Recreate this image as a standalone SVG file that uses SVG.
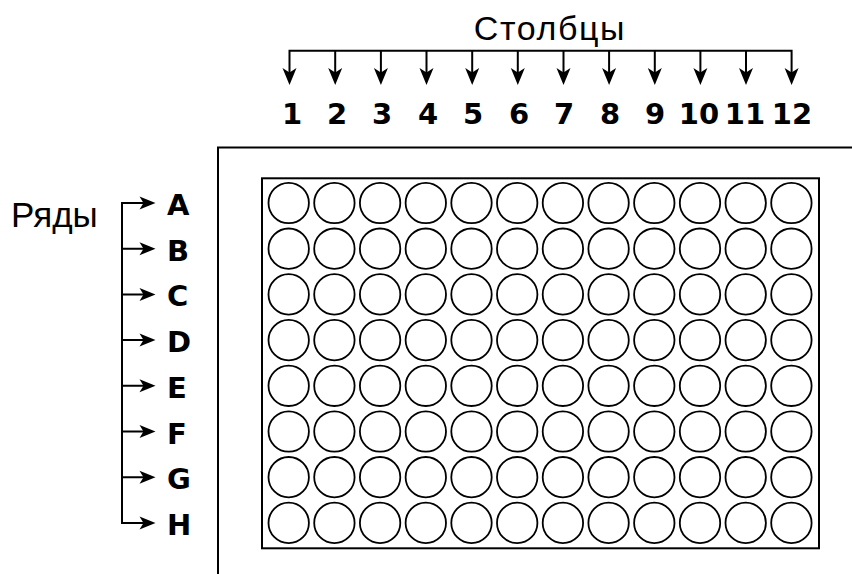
<svg xmlns="http://www.w3.org/2000/svg" xmlns:xlink="http://www.w3.org/1999/xlink" width="852" height="574" viewBox="0 0 852 574">
<style>
.ln{fill:none;stroke:#000;stroke-width:2}
.well{fill:#fff;stroke:#000;stroke-width:1.8}
.lab{font-family:"DejaVu Sans",Verdana,sans-serif;font-weight:bold;font-size:29px;fill:#000}
.cap{font-family:"Liberation Sans",Arial,sans-serif;font-size:34px;fill:#000}
.hd{fill:#000;stroke:none}
</style>
<defs>
<path id="hdown" class="hd" d="M-7,-17 L0,0 L7,-17 L0,-12.5 Z"/>
<path id="hright" class="hd" d="M-16,-6.5 L0,0 L-16,6.5 L-12,0 Z"/>
<g id="wellrow">
<circle class="well" cx="288.7" cy="0" r="20.2"/>
<circle class="well" cx="334.4" cy="0" r="20.2"/>
<circle class="well" cx="380.1" cy="0" r="20.2"/>
<circle class="well" cx="425.8" cy="0" r="20.2"/>
<circle class="well" cx="471.5" cy="0" r="20.2"/>
<circle class="well" cx="517.2" cy="0" r="20.2"/>
<circle class="well" cx="562.9" cy="0" r="20.2"/>
<circle class="well" cx="608.6" cy="0" r="20.2"/>
<circle class="well" cx="654.3" cy="0" r="20.2"/>
<circle class="well" cx="700" cy="0" r="20.2"/>
<circle class="well" cx="745.7" cy="0" r="20.2"/>
<circle class="well" cx="791.4" cy="0" r="20.2"/>
</g>
</defs>
<rect width="852" height="574" fill="#fff"/>

<g id="frame">
<path class="ln" d="M218,574 L218,147.5 L852,147.5"/>
</g>

<g id="plate">
<rect class="ln" x="262" y="178.3" width="557" height="370"/>
<use xlink:href="#wellrow" y="203"/>
<use xlink:href="#wellrow" y="248.7"/>
<use xlink:href="#wellrow" y="294.4"/>
<use xlink:href="#wellrow" y="340.1"/>
<use xlink:href="#wellrow" y="385.8"/>
<use xlink:href="#wellrow" y="431.5"/>
<use xlink:href="#wellrow" y="477.2"/>
<use xlink:href="#wellrow" y="522.9"/>
</g>

<g id="connectors">
<path class="ln" d="M289.5,75 L289.5,50.7 L791.6,50.7 L791.6,75"/>
<path class="ln" d="M335.2,50.7 V75 M380.9,50.7 V75 M426.5,50.7 V75 M472.2,50.7 V75 M517.8,50.7 V75 M563.5,50.7 V75 M609.1,50.7 V75 M654.8,50.7 V75 M700.4,50.7 V75 M746,50.7 V75"/>
<use xlink:href="#hdown" x="289.5" y="85"/>
<use xlink:href="#hdown" x="335.2" y="85"/>
<use xlink:href="#hdown" x="380.9" y="85"/>
<use xlink:href="#hdown" x="426.5" y="85"/>
<use xlink:href="#hdown" x="472.2" y="85"/>
<use xlink:href="#hdown" x="517.8" y="85"/>
<use xlink:href="#hdown" x="563.5" y="85"/>
<use xlink:href="#hdown" x="609.1" y="85"/>
<use xlink:href="#hdown" x="654.8" y="85"/>
<use xlink:href="#hdown" x="700.4" y="85"/>
<use xlink:href="#hdown" x="746" y="85"/>
<use xlink:href="#hdown" x="791.6" y="85"/>

<path class="ln" d="M146,203 L122,203 L122,522.9 L146,522.9"/>
<path class="ln" d="M122,248.7 H146 M122,294.4 H146 M122,340.1 H146 M122,385.8 H146 M122,431.5 H146 M122,477.2 H146"/>
<use xlink:href="#hright" x="155.5" y="203"/>
<use xlink:href="#hright" x="155.5" y="248.7"/>
<use xlink:href="#hright" x="155.5" y="294.4"/>
<use xlink:href="#hright" x="155.5" y="340.1"/>
<use xlink:href="#hright" x="155.5" y="385.8"/>
<use xlink:href="#hright" x="155.5" y="431.5"/>
<use xlink:href="#hright" x="155.5" y="477.2"/>
<use xlink:href="#hright" x="155.5" y="522.9"/>
</g>

<g id="columns-title"><text class="cap" x="550" y="40" text-anchor="middle" letter-spacing="1.6">Столбцы</text></g>
<g id="rows-title"><text class="cap" x="11" y="227" style="font-size:35px">Ряды</text></g>

<g id="column-labels" class="lab" text-anchor="middle">
<text x="292" y="124">1</text>
<text x="337" y="124">2</text>
<text x="382" y="124">3</text>
<text x="428" y="124">4</text>
<text x="473" y="124">5</text>
<text x="519" y="124">6</text>
<text x="564" y="124">7</text>
<text x="610" y="124">8</text>
<text x="655" y="124">9</text>
<text x="699" y="124">10</text>
<text x="745" y="124">11</text>
<text x="792" y="124">12</text>
</g>

<g id="row-labels" class="lab">
<text x="167" y="215">A</text>
<text x="167" y="260.7">B</text>
<text x="167" y="306.4">C</text>
<text x="167" y="352.1">D</text>
<text x="167" y="397.8">E</text>
<text x="167" y="443.5">F</text>
<text x="167" y="489.2">G</text>
<text x="167" y="534.9">H</text>
</g>
</svg>
